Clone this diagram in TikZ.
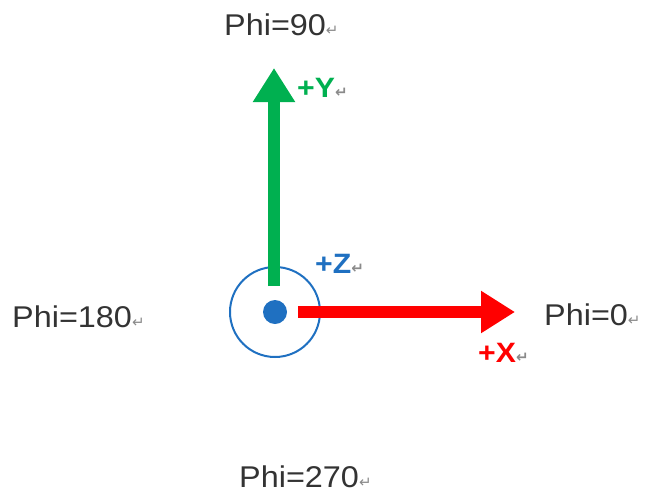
\documentclass[tikz,border=0pt]{standalone}
\usepackage{fontspec}
\setmainfont{Liberation Sans}[FakeStretch=1.08]
\newfontfamily\dejavu{DejaVu Sans}
\usetikzlibrary{arrows.meta}
\definecolor{txtgray}{HTML}{333333}
\definecolor{markgray}{HTML}{8A8A8A}
\definecolor{axblue}{HTML}{1F70C1}
\definecolor{axgreen}{HTML}{00B050}
\definecolor{axred}{HTML}{FF0000}
\newcommand\retmark{{\dejavu\fontsize{15}{15}\selectfont\color{markgray}↵}}
\tikzset{
  philabel/.style={inner sep=0pt, anchor=base west, text=txtgray, font=\fontsize{30}{30}\selectfont},
  axlabel/.style={inner sep=0pt, anchor=base west, font=\bfseries\fontsize{28}{28}\selectfont},
  axarrow/.style={line width=12pt, -{Triangle[length=34pt,width=40pt]}},
}
\begin{document}
\begin{tikzpicture}[x=1pt,y=-1pt]
\useasboundingbox (0,0) rectangle (653,493);
% axes origin
\coordinate (O) at (275,312);
\node[circle, draw=axblue, line width=2pt, minimum size=90pt, inner sep=0pt] (ring) at (O) {};
\node[circle, fill=axblue, minimum size=24pt, inner sep=0pt] (dot) at (O) {};
\coordinate (ystart) at (274,286);
\coordinate (ytip) at (274,68);
\coordinate (xstart) at (298,312);
\coordinate (xtip) at (515,312);
\draw[axarrow, axgreen] (ystart) -- (ytip);
\draw[axarrow, axred] (xstart) -- (xtip);
% labels
\node[philabel] (p90) at (224,35) {Phi=90\retmark};
\node[philabel] (p180) at (12,327) {Phi=180\retmark};
\node[philabel] (p0) at (544,325) {Phi=0\retmark};
\node[philabel] (p270) at (239,487) {Phi=270\retmark};
\node[axlabel, text=axgreen] (ly) at (297,97) {+Y\retmark};
\node[axlabel, text=axblue] (lz) at (315,273) {+Z\retmark};
\node[axlabel, text=axred] (lx) at (478,362) {+X\retmark};
\end{tikzpicture}
\end{document}
